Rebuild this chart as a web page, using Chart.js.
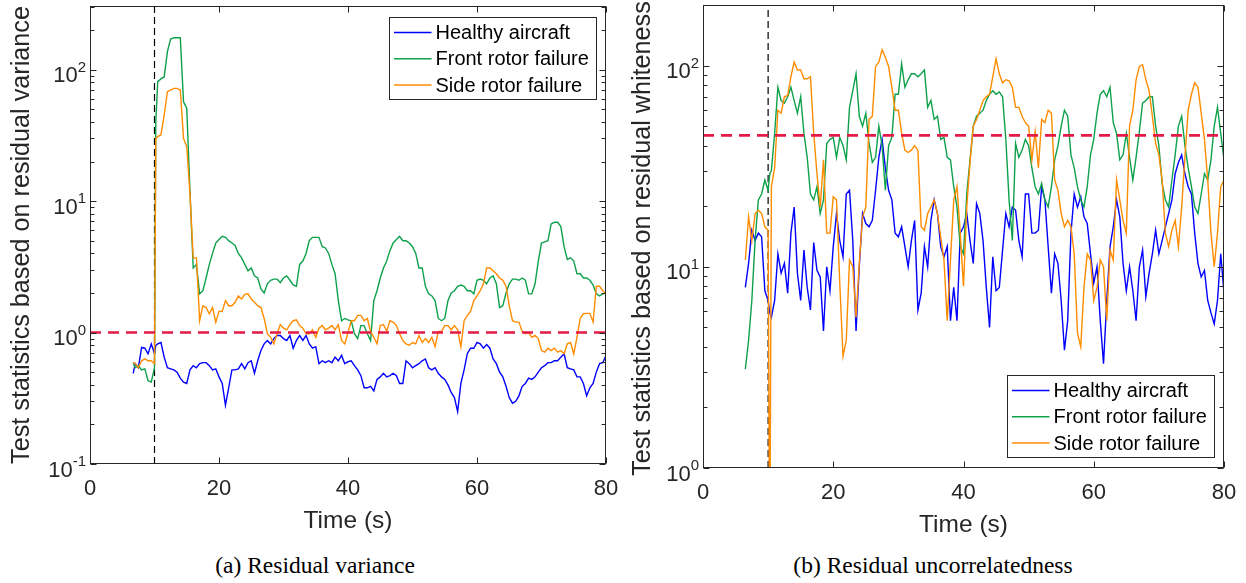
<!DOCTYPE html>
<html><head><meta charset="utf-8">
<script src="https://cdn.jsdelivr.net/npm/chart.js@4.4.1/dist/chart.umd.min.js"></script>
<style>
html,body{margin:0;padding:0;background:#fff;width:1246px;height:583px;overflow:hidden;}
#wa{position:absolute;left:0;top:0;width:620px;height:540px;}
#wb{position:absolute;left:620px;top:0;width:626px;height:540px;}
.cap{position:absolute;top:551px;font-family:"Liberation Serif","Times New Roman",serif;font-size:23.5px;line-height:28px;color:#000;white-space:nowrap;transform:translateX(-50%);}
</style></head><body>
<div id="wa"><canvas id="ca" width="620" height="540"></canvas></div>
<div id="wb"><canvas id="cb" width="626" height="540"></canvas></div>
<div class="cap" style="left:315px">(a) Residual variance</div>
<div class="cap" style="left:933px">(b) Residual uncorrelatedness</div>
<script>
// ---------------- DATA ----------------
const SERIES_NAMES = ['Healthy aircraft', 'Front rotor failure', 'Side rotor failure'];
const X_TICKS = [0, 20, 40, 60, 80];
const FAULT_TIME = 10;

// (a) Residual variance
const Y_TICKS_A = [0.1, 1, 10, 100];
const Y_EXP_A = ['-1', '0', '1', '2'];
const THRESHOLD_A = 1;
const timeA = [6.7,7,7.5,8,8.5,9,9.5,10,10.2,
 10.5,11,11.5,12,12.5,13,13.5,14,14.5,15,
 15.5,16,16.5,17,17.5,18,18.5,19,19.5,20,
 20.5,21,21.5,22,22.5,23,23.5,24,24.5,25,
 25.5,26,26.5,27,27.5,28,28.5,29,29.5,30,
 30.5,31,31.5,32,32.5,33,33.5,34,34.5,35,
 35.5,36,36.5,37,37.5,38,38.5,39,39.5,40,
 40.5,41,41.5,42,42.5,43,43.5,44,44.5,45,
 45.5,46,46.5,47,47.5,48,48.5,49,49.5,50,
 50.5,51,51.5,52,52.5,53,53.5,54,54.5,55,
 55.5,56,56.5,57,57.5,58,58.5,59,59.5,60,
 60.5,61,61.5,62,62.5,63,63.5,64,64.5,65,
 65.5,66,66.5,67,67.5,68,68.5,69,69.5,70,
 70.5,71,71.5,72,72.5,73,73.5,74,74.5,75,
 75.5,76,76.5,77,77.5,78,78.5,79,79.5,80];
const healthyA = [0.49,0.58,0.54,0.77,0.76,0.69,0.82,0.69,0.80,
 0.82,0.84,0.65,0.54,0.53,0.52,0.50,0.45,0.42,0.41,
 0.52,0.56,0.54,0.58,0.59,0.59,0.56,0.52,0.53,0.46,
 0.41,0.28,0.38,0.52,0.52,0.53,0.58,0.53,0.59,0.61,
 0.49,0.61,0.73,0.82,0.87,0.82,0.90,0.95,0.95,0.90,
 0.87,0.95,0.76,0.87,0.95,0.87,0.95,0.82,0.76,0.78,
 0.58,0.61,0.59,0.61,0.59,0.65,0.61,0.67,0.58,0.60,
 0.61,0.56,0.52,0.47,0.38,0.38,0.39,0.36,0.44,0.46,
 0.49,0.46,0.47,0.49,0.47,0.41,0.41,0.61,0.58,0.54,
 0.56,0.58,0.61,0.63,0.54,0.52,0.54,0.49,0.46,0.44,
 0.40,0.35,0.32,0.25,0.41,0.52,0.69,0.76,0.76,0.84,
 0.82,0.76,0.81,0.76,0.63,0.58,0.50,0.46,0.39,0.32,
 0.29,0.30,0.33,0.39,0.41,0.45,0.44,0.46,0.50,0.54,
 0.56,0.59,0.59,0.61,0.61,0.65,0.69,0.54,0.53,0.52,
 0.46,0.46,0.41,0.33,0.38,0.41,0.50,0.58,0.59,0.67];
const frontA = [0.59,0.54,0.56,0.52,0.53,0.43,0.42,0.54,40,
 81,85,88,137,171,175,175,175,57,51,
 12,3.1,3.3,1.97,2.08,2.6,3.3,4.0,4.8,5.1,
 5.4,5.3,5.0,4.8,4.6,4.0,3.7,3.3,2.95,3.1,
 2.7,2.6,2.15,2.0,2.35,2.5,2.55,2.55,2.4,2.6,
 2.7,2.5,2.3,2.25,3.3,3.5,4.0,5.0,5.3,5.3,
 5.3,4.5,4.4,4.0,3.3,2.8,1.75,1.23,1.28,1.25,
 1.23,0.98,0.90,1.13,1.13,0.98,0.87,1.75,2.08,2.6,
 3.1,3.5,4.2,4.8,5.1,5.4,5.0,5.0,4.8,4.5,
 4.0,3.1,3.1,2.25,1.97,1.9,1.75,1.28,1.23,1.28,
 1.75,2.0,2.08,2.25,2.3,2.25,2.08,2.08,1.97,2.5,
 2.55,2.5,2.35,2.6,2.7,2.35,1.55,1.6,2.0,2.35,
 2.55,2.55,2.5,2.6,2.5,1.97,1.97,2.35,3.5,4.8,
 4.9,5.0,6.7,6.9,6.9,6.4,4.5,3.6,3.7,3.5,
 2.8,2.8,2.6,2.6,2.5,2.3,1.97,1.9,1.97,2.0];
const sideA = [0.59,0.58,0.54,0.61,0.63,0.61,0.61,0.58,30,
 31,32,45,68,70,72,72,70,30,26,
 11.3,3.7,3.7,1.23,1.6,1.55,1.39,1.55,1.2,1.45,
 1.45,1.75,1.6,1.6,1.7,1.9,1.8,1.95,1.97,1.8,
 1.7,1.6,1.55,1.28,0.98,0.92,0.82,0.98,1.15,1.08,
 1.05,1.15,1.23,1.25,1.13,1.08,0.98,0.98,1.05,0.92,
 1.08,1.13,1.05,1.08,1.13,1.05,1.15,0.87,0.82,1.0,
 1.23,1.23,1.35,1.35,1.23,1.28,1.02,0.92,0.82,1.13,
 1.15,1.02,1.23,1.2,1.13,0.98,0.87,0.82,0.80,0.84,
 0.82,0.95,0.84,0.90,0.84,0.92,0.78,1.02,1.02,1.13,
 1.13,1.05,1.13,1.05,0.78,1.23,1.35,1.45,1.75,1.9,
 2.08,2.35,3.1,3.1,2.95,2.8,2.6,2.5,2.25,1.6,
 1.23,1.2,1.2,1.02,0.98,1.0,0.92,0.95,0.90,0.73,
 0.71,0.76,0.73,0.76,0.71,0.73,0.69,0.82,0.84,0.69,
 0.92,1.28,1.39,1.4,1.4,1.2,2.25,2.25,2.08,1.97];

// (b) Residual uncorrelatedness
const Y_TICKS_B = [1, 10, 100];
const Y_EXP_B = ['0', '1', '2'];
const THRESHOLD_B = 45;
const timeB = [6.5,7,7.5,8,8.5,9,9.5,10,10.25,
 10.5,11,11.5,12,12.5,13,13.5,14,14.5,15,
 15.5,16,16.5,17,17.5,18,18.5,19,19.5,20,
 20.5,21,21.5,22,22.5,23,23.5,24,24.5,25,
 25.5,26,26.5,27,27.5,28,28.5,29,29.5,30,
 30.5,31,31.5,32,32.5,33,33.5,34,34.5,35,
 35.5,36,36.5,37,37.5,38,38.5,39,39.5,40,
 40.5,41,41.5,42,42.5,43,43.5,44,44.5,45,
 45.5,46,46.5,47,47.5,48,48.5,49,49.5,50,
 50.5,51,51.5,52,52.5,53,53.5,54,54.5,55,
 55.5,56,56.5,57,57.5,58,58.5,59,59.5,60,
 60.5,61,61.5,62,62.5,63,63.5,64,64.5,65,
 65.5,66,66.5,67,67.5,68,68.5,69,69.5,70,
 70.5,71,71.5,72,72.5,73,73.5,74,74.5,75,
 75.5,76,76.5,77,77.5,78,78.5,79,79.5,80];
const healthyB = [7.9,10.4,15.2,13.5,14.7,14.1,7.6,6.8,5.9,
 5.6,6.8,11.6,9.3,10.4,7.4,14.7,19.8,9.3,6.8,
 12.1,7.9,6.1,13.2,9.6,8.9,4.8,10,7.6,12.6,
 18.4,13.5,11.2,23,24,13.5,4.8,10,18.4,16.4,
 15.8,17,24,35,43,31,24,21.5,14.7,14.1,
 15.8,12.6,10,13.5,17,6.1,7.4,12.6,10,17,
 21.5,18.4,12.6,11.2,12.6,5.4,7.9,5.4,14.7,15.8,
 18.4,13.5,10.4,20.6,18.4,13.5,7.9,5.0,11.2,7.6,
 7.9,12.1,18.4,15.8,19.8,19.1,13.5,11.2,23,23,
 14.7,14.7,15.2,25,21.5,12.6,7.4,11.6,10.4,6.8,
 3.85,5.4,14.7,23,19.8,22.3,17.7,16.4,11.6,8.3,
 10,5.4,3.3,6.8,12.6,15.8,21.5,17.7,10.4,7.6,
 10,7.6,5.4,10,12.1,7.1,9.3,11.6,15.2,11.6,
 13.5,15.8,18.4,21.5,29,33,36,29,25,23,
 14.7,10.4,8.9,9.6,6.8,5.9,5.2,6.8,11.6,7.4];
const frontB = [3.1,4.3,6.8,13.5,21.5,23,27,24,29,
 30,46,78,67,65,70,78,67,58,70,
 46,35,23,21.5,25,18.4,21.5,41,43,44,
 35,44,40,34,62,75,91,56,50,58,
 41,33,35,50,40,24,40,44,72,72,
 102,78,85,91,91,88,91,95,62,67,
 54,56,43,44,35,34,25,19.8,12.6,11.6,
 23,34,50,56,58,60,67,72,75,72,
 74,70,43,21.5,13.5,41,35,38,43,40,
 31,25,23,26,21.5,19.8,25,34,40,50,
 60,56,36,31,25,21.5,19.8,25,36,43,
 58,72,75,70,78,52,46,34,36,46,
 35,27,35,47,65,67,70,70,50,40,
 26,21.5,19.8,27,36,50,56,40,31,25,
 19.8,18.4,23,29,27,34,50,62,46,34];
const sideB = [10.8,17.7,13.5,18.4,19.1,18.4,15.8,15.2,0.3,
 25,31,60,58,70,71,88,104,95,95,
 86,86,88,46,29,19.8,34,14.7,14.7,22.3,
 21.5,8.3,3.6,4.3,10.8,10,5.6,10.4,17.7,19.8,
 54,56,99,104,120,110,99,78,60,60,
 46,38,37,38,40,38,15.8,15.2,18.4,19.8,
 21.5,18.4,14.1,10.8,5.4,10.8,21.5,25,14.7,8,
 19.8,33,50,54,60,67,70,72,88,108,
 91,82,85,84,78,62,62,56,52,50,
 34,47,31,54,52,60,58,27,24,18.4,
 15.8,17,15.8,11.6,4.7,4.0,7.9,11.6,10.8,6.8,
 7.9,10.8,10,5.4,12.1,10.8,27,21.5,17,14.7,
 50,60,85,99,101,85,75,56,41,36,
 27,14.7,12.6,15.2,17,12.6,19.8,35,60,72,
 82,78,58,43,27,14.7,10,14.7,25,27];

// ---------------- STYLE ----------------
const COLORS = ['#0000FF', '#0DA14B', '#FF8C00'];
const AXIS_COLOR = '#262626';
const FONT = '"Liberation Sans", Arial, Helvetica, sans-serif';

function framePlugin(cfg) {
  return {
    id: 'frame',
    afterDraw(chart) {
      const ctx = chart.ctx, a = chart.chartArea, xs = chart.scales.x, ys = chart.scales.y;
      ctx.save();
      const L = Math.round(a.left) + 0.5, R = Math.round(a.right) - 0.5;
      const T = Math.round(a.top) + 0.5, B = Math.round(a.bottom) - 0.5;
      ctx.strokeStyle = AXIS_COLOR; ctx.lineWidth = 1;
      ctx.strokeRect(L, T, R - L, B - T);
      ctx.beginPath();
      for (const v of X_TICKS) {
        const px = Math.round(xs.getPixelForValue(v)) + 0.5;
        ctx.moveTo(px, B); ctx.lineTo(px, B - 6);
        ctx.moveTo(px, T); ctx.lineTo(px, T + 6);
      }
      const lo = Math.floor(Math.log10(ys.min)), hi = Math.ceil(Math.log10(ys.max));
      for (let d = lo; d <= hi; d++) {
        for (let k = 1; k <= 9; k++) {
          const v = k * Math.pow(10, d);
          if (v < ys.min * 0.999 || v > ys.max * 1.001) continue;
          const py = Math.round(ys.getPixelForValue(v)) + 0.5;
          const len = k === 1 ? 6 : 4;
          ctx.moveTo(L, py); ctx.lineTo(L + len, py);
          ctx.moveTo(R, py); ctx.lineTo(R - len, py);
        }
      }
      ctx.stroke();
      // x tick labels
      ctx.fillStyle = AXIS_COLOR;
      ctx.font = '22px ' + FONT; ctx.textAlign = 'center'; ctx.textBaseline = 'middle';
      for (const v of X_TICKS) ctx.fillText(String(v), xs.getPixelForValue(v), a.bottom + 25);
      // y tick labels 10^n
      for (let i = 0; i < cfg.yTicks.length; i++) {
        const py = ys.getPixelForValue(cfg.yTicks[i]);
        ctx.textAlign = 'right'; ctx.textBaseline = 'alphabetic';
        ctx.font = '15px ' + FONT;
        const e = cfg.yExp[i];
        ctx.fillText(e, a.left - 4, py + 2);
        const w = ctx.measureText(e).width;
        ctx.font = '22px ' + FONT;
        ctx.fillText('10', a.left - 4 - w, py + 12.5);
      }
      // axis titles
      ctx.font = '24.5px ' + FONT; ctx.textAlign = 'center'; ctx.textBaseline = 'middle';
      ctx.fillText('Time (s)', (a.left + a.right) / 2, a.bottom + 57);
      ctx.save();
      ctx.font = '25.2px ' + FONT;
      ctx.translate(cfg.yTitleX, (a.top + a.bottom) / 2 + cfg.yTitleDy);
      ctx.rotate(-Math.PI / 2);
      ctx.fillText(cfg.yTitle, 0, 0);
      ctx.restore();
      // legend
      const w = 207, h = 82;
      const bx = Math.round(a.right - 10 - w) + 0.5;
      const by = Math.round(cfg.legendTop ? a.top + 11 : a.bottom - 11 - h) + 0.5;
      ctx.fillStyle = '#fff'; ctx.fillRect(bx, by, w, h);
      ctx.strokeStyle = AXIS_COLOR; ctx.lineWidth = 1; ctx.strokeRect(bx, by, w, h);
      ctx.font = '20px ' + FONT; ctx.textAlign = 'left'; ctx.textBaseline = 'middle';
      for (let i = 0; i < SERIES_NAMES.length; i++) {
        const yy = by + 15 + i * 26.3;
        ctx.strokeStyle = COLORS[i]; ctx.lineWidth = 1.5;
        ctx.beginPath(); ctx.moveTo(bx + 4.5, yy); ctx.lineTo(bx + 42, yy); ctx.stroke();
        ctx.fillStyle = '#000';
        ctx.fillText(SERIES_NAMES[i], bx + 46, yy + 1);
      }
      ctx.restore();
    }
  };
}

function makeChart(id, times, series, cfg) {
  const ds = series.map((vals, i) => ({
    label: SERIES_NAMES[i],
    data: times.map((t, j) => ({ x: t, y: vals[j] })),
    borderColor: COLORS[i], borderWidth: 1.4, pointRadius: 0, tension: 0,
    order: [3, 2, 1][i]
  }));
  ds.push({ label: 'threshold', data: [{ x: 0, y: cfg.threshold }, { x: 80, y: cfg.threshold }],
    borderColor: '#E41A47', borderWidth: 2.6, borderDash: [11, 7], pointRadius: 0, order: 0 });
  ds.push({ label: 'fault', data: [{ x: FAULT_TIME, y: cfg.yMin }, { x: FAULT_TIME, y: cfg.yMax }],
    borderColor: '#000', borderWidth: 1.2, borderDash: [7, 4], pointRadius: 0, order: 4 });
  return new Chart(document.getElementById(id), {
    type: 'line',
    data: { datasets: ds },
    options: {
      responsive: false, animation: false, events: [],
      layout: { padding: { top: cfg.padTop, right: cfg.padRight, left: 0, bottom: 0 } },
      plugins: { legend: { display: false }, tooltip: { enabled: false } },
      scales: {
        x: { type: 'linear', min: 0, max: 80, ticks: { display: false }, grid: { display: false },
             border: { display: false }, afterFit(s) { s.height = cfg.xH; } },
        y: { type: 'logarithmic', min: cfg.yMin, max: cfg.yMax, ticks: { display: false },
             grid: { display: false }, border: { display: false }, afterFit(s) { s.width = cfg.yW; } }
      }
    },
    plugins: [framePlugin(cfg)]
  });
}

makeChart('ca', timeA, [healthyA, frontA, sideA], {
  yMin: 0.1, yMax: 305, yTicks: Y_TICKS_A, yExp: Y_EXP_A, threshold: THRESHOLD_A,
  padTop: 6, padRight: 14, xH: 76, yW: 90, yTitleX: 22, yTitleDy: 0, legendTop: true,
  yTitle: 'Test statistics based on residual variance'
});
makeChart('cb', timeB, [healthyB, frontB, sideB], {
  yMin: 1, yMax: 200, yTicks: Y_TICKS_B, yExp: Y_EXP_B, threshold: THRESHOLD_B,
  padTop: 5, padRight: 22, xH: 72, yW: 83, yTitleX: 23, yTitleDy: 2, legendTop: false,
  yTitle: 'Test statistics based on residual whiteness'
});
</script>
</body></html>
